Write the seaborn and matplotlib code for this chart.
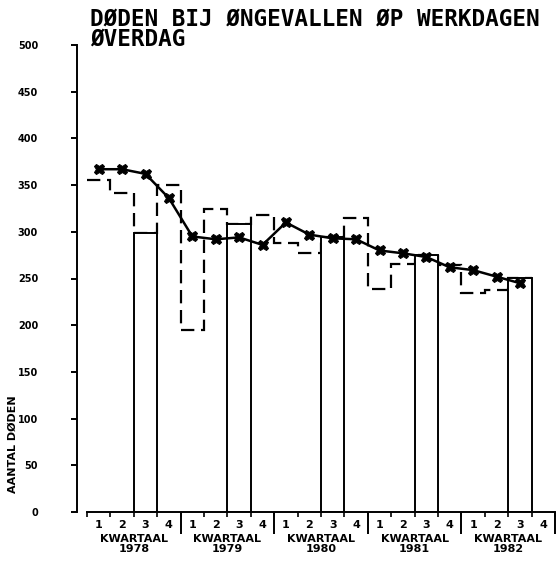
import numpy as np
import matplotlib as mpl; mpl.use("Agg")
import matplotlib.pyplot as plt
import seaborn as sns

# --- data ---
jaren = ["1978", "1979", "1980", "1981", "1982"]
kwartalen = ["1", "2", "3", "4"]

# doden per kwartaal (Q1 1978 .. Q3 1982), dashed steps + solid bars for Q3
kwartaal_doden = [355, 342, 299, 350,
                  195, 324, 308, 318,
                  288, 277, 294, 315,
                  239, 266, 275, 264,
                  234, 238, 251]

# voortschrijdend gemiddelde (line with markers)
trend_doden = [367, 367, 362, 336,
               295, 292, 294, 286,
               310, 297, 293, 292,
               280, 277, 273, 262,
               259, 252, 245]

n = len(kwartaal_doden)
edges = np.arange(n + 1)
centers = np.arange(n) + 0.5
q3_idx = [i for i in range(n) if i % 4 == 2]

sns.set_style("ticks")
plt.rcParams["font.family"] = ["DejaVu Sans"]
plt.rcParams["font.weight"] = "bold"
for k in ["text.color", "axes.labelcolor", "xtick.color", "ytick.color", "axes.edgecolor"]:
    plt.rcParams[k] = "black"

fig = plt.figure(figsize=(5.58, 5.62), dpi=100)
ax = fig.add_axes([87 / 558, 50 / 562, (555 - 87) / 558, (512 - 45) / 562])

# dashed quarterly steps
ax.stairs(kwartaal_doden, edges, baseline=None, color="black",
          lw=1.6, ls=(0, (6, 3)), zorder=1)

# solid bars for the third quarter
sns.barplot(x=[centers[i] for i in q3_idx], y=[kwartaal_doden[i] for i in q3_idx],
            native_scale=True, width=0.25, color="white", saturation=1,
            edgecolor="black", linewidth=1.4, ax=ax, zorder=2)

# trend line
sns.lineplot(x=centers, y=trend_doden, color="black", lw=1.8, marker="X",
             markersize=7.5, markeredgecolor="black", ax=ax, zorder=3)

ax.set_xlim(0, 20)
ax.set_ylim(0, 500)
ax.set_xlabel("")
ax.set_ylabel("")

sns.despine(ax=ax)
ax.spines["left"].set_position(("outward", 7.2))
ax.spines["left"].set_bounds(0, 500)
ax.spines["bottom"].set_bounds(0, 20)
for s in ["left", "bottom"]:
    ax.spines[s].set_linewidth(1.4)

ax.set_yticks(np.arange(0, 501, 50))
ax.tick_params(axis="y", length=4, width=1.4, pad=24, labelsize=7)
for lab in ax.get_yticklabels():
    lab.set_fontweight("bold")

# quarter numbers centred, short ticks at the quarter edges
ax.set_xticks(np.arange(20) + 0.5)
ax.set_xticklabels(kwartalen * 5, fontsize=8, fontweight="bold")
ax.set_xticks(np.arange(21), minor=True)
ax.tick_params(axis="x", which="major", length=0, pad=6)
ax.tick_params(axis="x", which="minor", length=3.5, width=1.2)

# long ticks at the year boundaries
sec = ax.secondary_xaxis("bottom")
sec.set_xticks([4, 8, 12, 16, 20])
sec.set_xticklabels([""] * 5)
sec.tick_params(length=16, width=1.4)
sec.spines["bottom"].set_visible(False)

# year labels
sec2 = ax.secondary_xaxis("bottom")
sec2.set_xticks([2, 6, 10, 14, 18])
sec2.set_xticklabels(["KWARTAAL\n" + j for j in jaren], fontsize=8,
                     fontweight="bold", linespacing=1.0)
sec2.tick_params(length=0, pad=16)
sec2.spines["bottom"].set_visible(False)

fig.text(90 / 558, 1 - 8 / 562, "DØDEN BIJ ØNGEVALLEN ØP WERKDAGEN\nØVERDAG",
         family="DejaVu Sans Mono", fontweight="bold", fontsize=16.3,
         ha="left", va="top", linespacing=0.82)
fig.text(13 / 558, 1 - 444 / 562, "AANTAL DØDEN", rotation=90,
         fontsize=8, fontweight="bold", ha="center", va="center")

fig.savefig("out.png", dpi=100)
